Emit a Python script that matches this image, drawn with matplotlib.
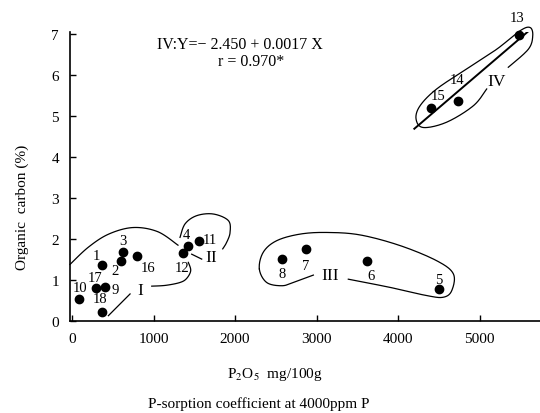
import numpy as np
import matplotlib.pyplot as plt

plt.rcParams['font.family'] = ['Liberation Serif', 'DejaVu Serif']
plt.rcParams['mathtext.fontset'] = 'stix'

# samples: P-sorption coefficient (P2O5 mg/100g) vs organic carbon (%)
sample_ids = [str(i) for i in range(1, 19)]
p_sorption = [372, 597, 622, 1427, 4507, 3623, 2871, 2577, 410,
              86, 1558, 1362, 5489, 4740, 4405, 802, 290, 365]
org_carbon = [1.37, 1.47, 1.69, 1.84, 0.78, 1.47, 1.76, 1.51, 0.82,
              0.54, 1.96, 1.66, 6.98, 5.36, 5.20, 1.59, 0.80, 0.21]

# where each sample number is written
label_x = [303, 528, 622, 1407, 4495, 3665, 2871, 2577, 528,
           98, 1693, 1346, 5456, 4720, 4495, 936, 282, 344]
label_y = [1.59, 1.23, 1.96, 2.12, 1.02, 1.12, 1.35, 1.15, 0.78,
           0.82, 2.00, 1.31, 7.41, 5.90, 5.50, 1.31, 1.07, 0.55]

# regression for group IV
intercept = -2.450
slope = 0.0017
fit_x = np.array([4200, 5600])

# hand drawn group outlines (data units)
outline_I_top = [(-25, 1.38), (200, 1.80), (450, 2.12), (750, 2.28),
                 (1050, 2.18), (1300, 1.85)]
outline_I_low = [(978, 0.85), (1150, 0.87), (1325, 0.94), (1407, 1.04),
                 (1456, 1.23), (1427, 1.43)]
outline_II = [(1325, 2.04), (1387, 2.37), (1530, 2.57), (1734, 2.61),
              (1918, 2.45), (1939, 2.16), (1898, 1.92), (1849, 1.76)]
outline_III = [(2961, 1.12), (2716, 0.94), (2573, 0.86), (2388, 0.94),
               (2298, 1.27), (2347, 1.68), (2512, 1.96), (2798, 2.12),
               (3125, 2.16), (3534, 2.10), (4025, 1.84), (4475, 1.47),
               (4679, 1.15), (4659, 0.74), (4556, 0.58), (4352, 0.62),
               (3902, 0.82), (3390, 1.02)]
outline_IV = [(5088, 5.66), (4924, 5.25), (4597, 4.85), (4310, 4.72),
              (4221, 4.93), (4270, 5.25), (4474, 5.66), (4843, 6.15),
              (5211, 6.63), (5497, 7.08), (5620, 7.16), (5653, 6.96),
              (5599, 6.63), (5353, 6.19)]
leader_I = [(446, 0.13), (712, 0.66)]
leader_II = [(1468, 1.63), (1591, 1.51)]

group_names = ['I', 'II', 'III', 'IV']
group_x = [834, 1702, 3166, 5211]
group_y = [0.76, 1.55, 1.12, 5.86]


def smooth(pts, n=20):
    p = np.array(pts, float)
    p = np.vstack([p[0], p, p[-1]])
    out = []
    t = np.linspace(0, 1, n)[:, None]
    for i in range(1, len(p) - 2):
        p0, p1, p2, p3 = p[i - 1], p[i], p[i + 1], p[i + 2]
        out.append(0.5 * (2 * p1 + (-p0 + p2) * t
                          + (2 * p0 - 5 * p1 + 4 * p2 - p3) * t ** 2
                          + (-p0 + 3 * p1 - 3 * p2 + p3) * t ** 3))
    return np.vstack(out)


fig = plt.figure(figsize=(5.4, 4.14), dpi=100)
ax = fig.add_axes([70 / 540, 92 / 414, 470 / 540, 289 / 414])

ax.scatter(p_sorption, org_carbon, s=36, color='black', zorder=3, clip_on=False)
for sid, lx, ly in zip(sample_ids, label_x, label_y):
    ax.text(lx, ly, sid, fontsize=10.5, ha='center', va='center')

ax.plot(fit_x, intercept + slope * fit_x, color='black', lw=1.4)

for pts in [outline_I_top, outline_I_low, outline_II, outline_III, outline_IV]:
    c = smooth(pts)
    ax.plot(c[:, 0], c[:, 1], color='black', lw=0.9, clip_on=False)
for pts in [leader_I, leader_II]:
    a = np.array(pts)
    ax.plot(a[:, 0], a[:, 1], color='black', lw=0.9)

for g, gx, gy in zip(group_names, group_x, group_y):
    ax.text(gx, gy, g, fontsize=12.5, ha='center', va='center')

ax.text(2061, 6.76, 'IV:Y=\u2212 2.450 + 0.0017 X', fontsize=11.5,
        ha='center', va='center')
ax.text(2196, 6.34, 'r = 0.970*', fontsize=11.5, ha='center', va='center')

ax.set_xlim(-25, 5742)
ax.set_ylim(0, 7.05)
ax.set_xticks([0, 1000, 2000, 3000, 4000, 5000])
ax.set_yticks(range(8))
ax.tick_params(direction='in', length=4, labelsize=11, pad=8, width=1)
ax.spines['top'].set_visible(False)
ax.spines['right'].set_visible(False)
ax.spines['left'].set_linewidth(1.2)
ax.spines['bottom'].set_linewidth(1.2)

fig.text(22 / 540, 1 - 207 / 414, 'Organic  carbon (%)', rotation=90,
         fontsize=11, ha='center', va='center')
fig.text(275 / 540, 1 - 375 / 414, r'P$_2$O$_5$  mg/100g', fontsize=11,
         ha='center', va='center')
fig.text(259 / 540, 1 - 404 / 414, 'P-sorption coefficient at 4000ppm P',
         fontsize=11, ha='center', va='center')

fig.savefig('out.png', dpi=100)
